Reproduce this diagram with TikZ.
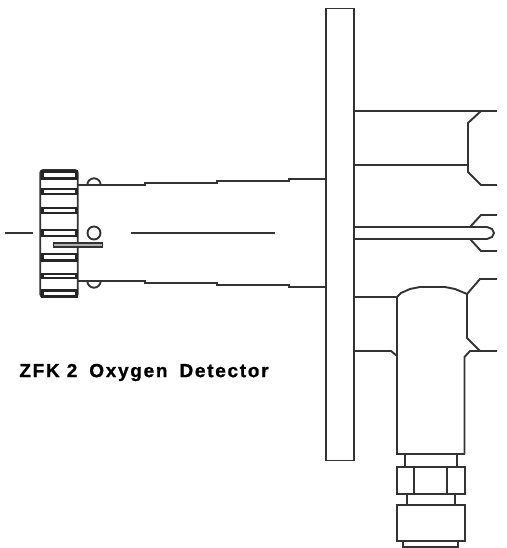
\documentclass[tikz,border=0pt]{standalone}
\usepackage{fontspec}
\setmainfont{Liberation Sans}
\newfontfamily\captionfont[LetterSpace=9,BoldFeatures={FakeBold=1}]{Liberation Sans}
\usetikzlibrary{positioning}
\tikzstyle{part} = [draw, line width=1.9pt, color=black!80, fill=white, inner sep=0pt, outer sep=0pt]
\tikzstyle{line} = [draw, line width=1.9pt, color=black!80]
\tikzstyle{knob} = [part, minimum width=37.5pt, minimum height=127pt, rounded corners=3pt]
\tikzstyle{ribdark} = [fill=black!85, inner sep=0pt, outer sep=0pt, minimum width=37pt]
\tikzstyle{ribwhite} = [fill=white, inner sep=0pt, outer sep=0pt, minimum width=31pt]
\tikzstyle{caption} = [font=\captionfont\bfseries\fontsize{19}{21}\selectfont, inner sep=0pt]
\newcommand{\ribdata}[4]{node (r#1) [ribdark, minimum height=#3] {} node (w#1) [ribwhite, minimum height=#4] {}}
\newcommand{\boxdata}[4]{node (#1) [part, minimum width=#2, minimum height=#3] {#4}}

\begin{document}
\begin{tikzpicture}[x=1pt,y=-1pt]
\useasboundingbox (0,0) rectangle (506,548);

% flange
\path (340,234.5) \boxdata{flange}{28pt}{452pt}{};

% locking nut
\path (59,233.5) node (nut) [knob] {};
\path (59,174.8) \ribdata{1}{0}{10.5pt}{4pt};
\path (59,191.5) \ribdata{2}{0}{7pt}{3pt};
\path (59,210.5) \ribdata{3}{0}{7.5pt}{3pt};
\path (59,233) \ribdata{4}{0}{8pt}{4pt};
\path (59,257.2) \ribdata{5}{0}{9pt}{3.5pt};
\path (59,275.9) \ribdata{6}{0}{6.5pt}{2.5pt};
\path (59,293.7) \ribdata{7}{0}{8.5pt}{3.5pt};

% centre line and details
\path [line] (5,233) -- (33,233);
\path [line] (130.7,233) -- (275,233);
\path (94,233) node (ring) [part, circle, minimum size=13pt] {};
\path (78,245) node (pin) [part, fill=black!30, minimum width=49pt, minimum height=4.6pt] {};
\path [line] (87.3,185) arc [start angle=180, end angle=360, radius=6.7];
\path [line] (87.3,281) arc [start angle=180, end angle=0, radius=6.7];

% probe body
\path [line] (nut.east |- 0,185) -- (145,185) -- (145,183) -- (217,183) -- (217,181) -- (289,181) -- (289,179) -- (flange.west |- 0,179);
\path [line] (nut.east |- 0,281) -- (145,281) -- (145,283) -- (217,283) -- (217,285) -- (289,285) -- (289,287) -- (flange.west |- 0,287);

% upper pipe
\path [line] (flange.east |- 0,111) -- (497,111);
\path [line] (481,111) -- (468,123) -- (468,172) -- (481,185) -- (497,185);
\path [line] (flange.east |- 0,165) -- (468,165);

% thermocouple tube
\path [line] (flange.east |- 0,227) -- (487,227) -- (492,229) -- (494,233) -- (492,237) -- (487,239) -- (flange.east |- 0,239);
\path [line] (497,215) -- (481,215) -- (470,227);
\path [line] (470,239) -- (481,251) -- (497,251);

% lower pipe and elbow
\path [line] (flange.east |- 0,297) -- (397,297) -- (401,293) -- (410,289) -- (420,287) -- (445,287) -- (455,289) -- (467,294);
\path [line] (497,279) -- (480,279) -- (467,294) -- (467,338) -- (480,351) -- (497,351);
\path [line] (flange.east |- 0,351) -- (391,351) -- (397,356);
\path [line] (480,351) -- (470,351) -- (464.5,357) -- (464.5,454);
\path [line] (397,297) -- (397,454) -- (464.5,454);

% fitting
\path [line] (405,454) -- (405,467);
\path [line] (457,454) -- (457,467);
\path (431,480.5) \boxdata{hex}{68pt}{27pt}{};
\path [line] (414,467) -- (414,494);
\path [line] (447,467) -- (447,494);
\path [line] (407,494) -- (407,505);
\path [line] (455,494) -- (455,505);
\path (431,523) \boxdata{cap}{68pt}{36pt}{};
\path [line] (403,541) -- (403,547) -- (458,547) -- (458,541);

% caption
\path (144,372.5) node (title) [caption] {ZFK 2\hspace{5pt} Oxygen\hspace{5pt} Detector};
\end{tikzpicture}
\end{document}
